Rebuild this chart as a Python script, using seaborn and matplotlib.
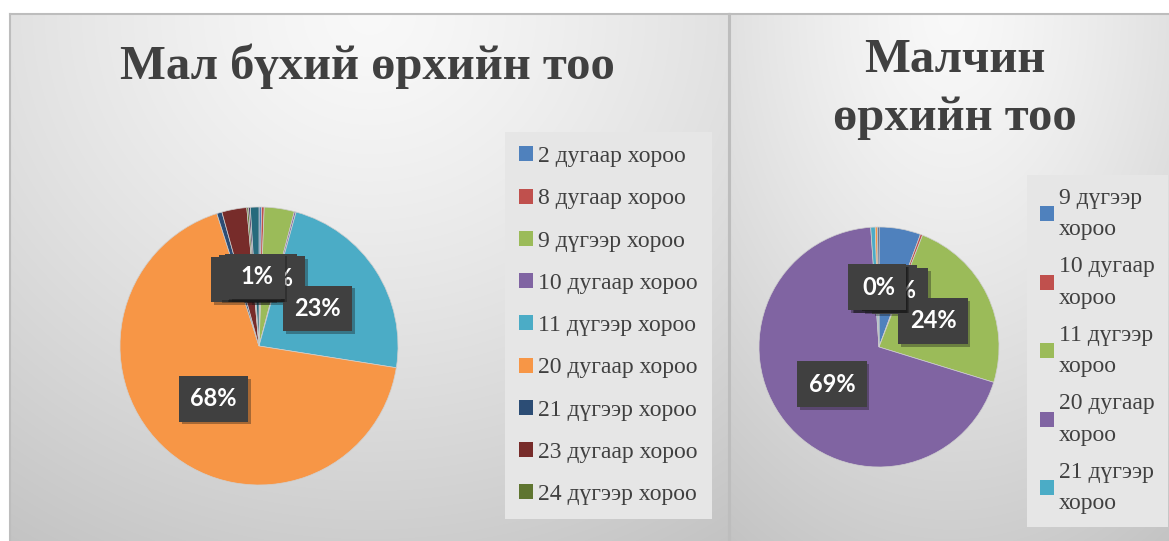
import numpy as np
import matplotlib
matplotlib.use("Agg")
import matplotlib.pyplot as plt
import matplotlib.patheffects as pe
import seaborn as sns

sns.set_style("white")
plt.rcParams['font.family'] = ['Liberation Serif', 'DejaVu Serif']

# left chart: Мал бүхий өрхийн тоо (shares, %)
left_labels = ["2 дугаар хороо", "8 дугаар хороо", "9 дүгээр хороо", "10 дугаар хороо",
               "11 дүгээр хороо", "20 дугаар хороо", "21 дүгээр хороо", "23 дугаар хороо",
               "24 дүгээр хороо", "25 дугаар хороо", "26 дугаар хороо"]
left_values = [0.3, 0.3, 3.5, 0.2, 23.2, 67.6, 0.6, 2.9, 0.2, 0.2, 1.0]
left_shown = 9  # legend is cut off after 9 entries

# right chart: Малчин өрхийн тоо (shares, %)
right_labels = ["9 дүгээр\nхороо", "10 дугаар\nхороо", "11 дүгээр\nхороо",
                "20 дугаар\nхороо", "21 дүгээр\nхороо", "23 дугаар\nхороо", "24 дүгээр\nхороо"]
right_values = [5.6, 0.3, 23.8, 69.0, 0.6, 0.3, 0.2]
right_shown = 5

palette = sns.color_palette(["#4F81BD", "#C0504D", "#9BBB59", "#8064A2", "#4BACC6", "#F79646",
                             "#2C4D75", "#772C2A", "#5F7530", "#4D3B62", "#276A7C"])

W, H = 1169, 541
fig = plt.figure(figsize=(W / 100, H / 100), dpi=100)
fig.patch.set_facecolor("white")


def box(x0, y0, x1, y1):
    # pixel box (top-left origin) -> figure rect
    return [x0 / W, 1 - y1 / H, (x1 - x0) / W, (y1 - y0) / H]


def panel(x0, y0, x1, y1):
    ax = fig.add_axes(box(x0, y0, x1, y1))
    h, w = int(y1 - y0), int(x1 - x0)
    yy, xx = np.mgrid[0:h, 0:w]
    d = np.sqrt(((xx - w * 0.5) / w) ** 2 + (yy / h * 0.8) ** 2)
    d = d / d.max()
    val = 0.975 - 0.21 * d ** 1.3
    img = np.dstack([val, val, val])
    ax.imshow(img, aspect="auto", extent=[0, 1, 0, 1])
    ax.set_xlim(0, 1)
    ax.set_ylim(0, 1)
    ax.set_xticks([])
    ax.set_yticks([])
    for s in ax.spines.values():
        s.set_color("#bdbdbd")
        s.set_linewidth(1.5)
    return ax


panel(10, 14, 729, 545)
panel(730, 14, 1172, 545)


def draw_pie(cx, cy, r, values, labels, shown, legend_xy, legend_kw):
    ax = fig.add_axes(box(cx - r, cy - r, cx + r, cy + r))
    ax.set_facecolor("none")
    wedges, _, autotexts = ax.pie(values, colors=palette[:len(values)], startangle=90,
                                  counterclock=False, autopct="%1.0f%%", pctdistance=0.5,
                                  wedgeprops=dict(edgecolor="#d0d0d0", linewidth=0.5))
    ax.set_xlim(-1, 1)
    ax.set_ylim(-1, 1)
    ax.axis("off")
    for t in autotexts:
        t.set_color("white")
        t.set_fontfamily(["Lato", "DejaVu Sans"])
        t.set_fontweight("bold")
        t.set_fontsize(17)
        t.set_bbox(dict(boxstyle="square,pad=0.48", facecolor="#404040", edgecolor="none"))
        t.get_bbox_patch().set_path_effects([pe.withSimplePatchShadow(offset=(2, -2), alpha=0.35)])
    leg = fig.legend(wedges[:shown], labels[:shown], loc="upper left",
                     bbox_to_anchor=(legend_xy[0] / W, 1 - legend_xy[1] / H),
                     frameon=True, fancybox=False, fontsize=17, handlelength=0.6,
                     handleheight=0.6, handletextpad=0.2, borderaxespad=0,
                     **legend_kw)
    leg.get_frame().set_facecolor("#e6e6e6")
    leg.get_frame().set_edgecolor("none")
    leg.get_frame().set_alpha(1)
    for t in leg.get_texts():
        t.set_color("#404040")
    for p in leg.get_patches():
        p.set_edgecolor("none")
    return leg


draw_pie(259, 346, 139, left_values, left_labels, left_shown, (505, 132),
         dict(labelspacing=0.9, borderpad=0.6))
leg = draw_pie(879, 347, 120, right_values, right_labels, right_shown, (1027, 175),
               dict(labelspacing=0.68, borderpad=0.55))
for t in leg.get_texts():
    t.set_linespacing(1.65)

fig.text(367 / W, 1 - 79 / H, "Мал бүхий өрхийн тоо", ha="center", va="baseline",
         fontsize=35, fontweight="bold", color="#404040")
fig.text(955 / W, 1 - 38 / H, "Малчин\nөрхийн тоо", ha="center", va="top",
         fontsize=35, fontweight="bold", color="#404040", linespacing=1.4, multialignment="center")

fig.savefig("out.png", dpi=100)
